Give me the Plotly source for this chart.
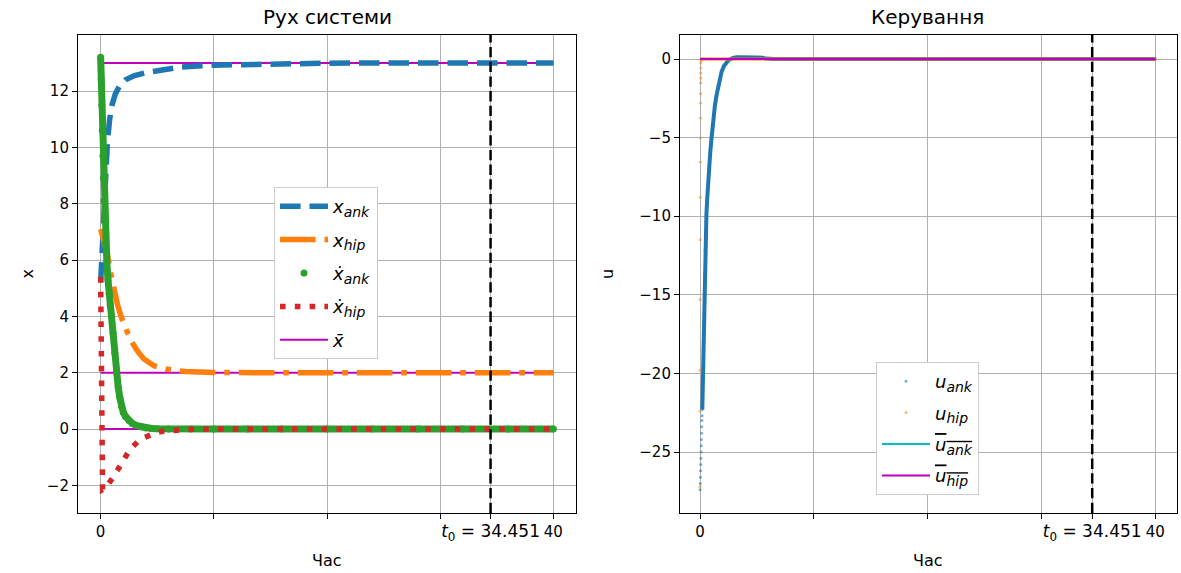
import plotly.graph_objects as go

# ---------------- data ----------------
t0 = 34.4514
x_tickvals = [0, 10, 20, 30, t0, 40]
x_ticktext = ["0", "", "", "", "<span style='font-size:17px'><i>t</i><sub>0</sub> = 34.451</span>", "40"]

# x_ank (blue dashed)
t_xank = [0, 0.15, 0.3, 0.45, 0.6, 0.8, 1.0, 1.3, 1.7, 2.2, 3.0, 4.0, 5.2, 7.0, 10, 14, 20, 30, 40]
v_xank = [5.2, 6.5, 8.0, 9.3, 10.2, 11.0, 11.5, 11.9, 12.2, 12.4, 12.55, 12.65, 12.75, 12.85, 12.92, 12.96, 12.99, 13.0, 13.0]

# x_hip (orange dash-dot)
t_xhip = [0, 0.3, 0.6, 0.9, 1.2, 1.5, 1.8, 2.1, 2.6, 3.2, 3.8, 4.7, 5.9, 7.5, 10, 15, 20, 30, 40]
v_xhip = [7.1, 6.7, 6.2, 5.5, 4.9, 4.4, 4.0, 3.65, 3.2, 2.8, 2.5, 2.25, 2.12, 2.04, 2.01, 2.0, 2.0, 2.0, 2.0]

# x_ank dot (green markers)
t_dxank = [0, 0.05, 0.1, 0.15, 0.2, 0.25, 0.3, 0.35, 0.45, 0.55, 0.65, 0.75, 0.85, 0.97, 1.1, 1.25,
           1.4, 1.55, 1.7, 1.85, 2.0, 2.2, 2.5, 2.8, 3.2, 3.6, 4.0, 4.5, 5.0, 6, 8, 10, 13, 16, 20,
           24, 28, 32, 36, 40]
v_dxank = [13.2, 12.4, 11.5, 10.6, 9.7, 8.9, 8.1, 7.4, 6.6, 5.9, 5.3, 4.8, 4.4, 4.0, 3.4, 2.7,
           2.0, 1.5, 1.1, 0.8, 0.6, 0.45, 0.3, 0.2, 0.12, 0.07, 0.04, 0.02, 0.01, 0, 0, 0, 0, 0, 0,
           0, 0, 0, 0, 0]

# x_hip dot (red dotted)
t_dxhip = [0, 0.04, 0.08, 0.12, 0.17, 0.4, 0.7, 1.05, 1.4, 1.7, 2.0, 2.4, 2.8, 3.25, 3.8, 4.3, 5.0,
           5.6, 6.5, 8, 10, 40]
v_dxhip = [5.4, 3.5, 0.8, -1.2, -2.15, -2.1, -1.95, -1.74, -1.52, -1.31, -1.1, -0.85, -0.64, -0.46,
           -0.31, -0.21, -0.12, -0.07, -0.03, -0.01, 0, 0]

# x bar (magenta reference levels)
xbar_levels = [13, 2, 0]
t_span = [0, 40]

# u_ank (blue small markers): fast sparse start, then dense part
t_uank = [0, 0.015, 0.03, 0.045, 0.06, 0.075, 0.09, 0.105, 0.12, 0.135, 0.15, 0.165, 0.18, 0.2,
          0.24, 0.28, 0.32, 0.36, 0.4, 0.44, 0.5, 0.56, 0.63, 0.7,
          0.8, 0.9, 1.0, 1.1, 1.2, 1.3, 1.45, 1.6, 1.75, 1.9, 2.1, 2.3, 2.5, 2.7, 2.9, 3.2, 3.6,
          4.0, 4.5, 5.0, 5.5, 5.8, 6.5, 8, 12, 16, 20, 24, 28, 32, 36, 40]
v_uank = [-27.4, -27.0, -26.6, -26.2, -25.8, -25.4, -25.0, -24.6, -24.2, -23.8, -23.4, -23.0, -22.7, -22.3,
          -20.5, -18.6, -16.8, -15.2, -13.7, -12.2, -11.0, -9.9, -8.9, -7.9,
          -6.8, -5.9, -5.1, -4.3, -3.6, -3.0, -2.3, -1.7, -1.2, -0.8, -0.45,
          -0.22, -0.08, 0.0, 0.08, 0.12, 0.13, 0.13, 0.12, 0.1, 0.08, 0.03, 0.01, 0, 0, 0, 0, 0, 0,
          0, 0, 0]

# u_hip (orange small markers)
t_uhip = [0, 0.005, 0.01, 0.015, 0.02, 0.025, 0.03, 0.035, 0.04, 0.045, 0.05, 0.055, 0.06, 0.065,
          0.07, 0.075, 0.08, 0.1, 1, 5, 10, 20, 30, 40]
v_uhip = [-27.2, -22.4, -19.8, -15.3, -11.5, -8.8, -6.55, -5.0, -3.75, -2.8, -2.2, -1.5, -1.2,
          -0.89, -0.57, -0.25, -0.1, 0, 0, 0, 0, 0, 0, 0]

ubar_ank = 0
ubar_hip = 0

# ---------------- styling ----------------
BLUE = "#1f77b4"
ORANGE = "#ff7f0e"
GREEN = "#2ca02c"
RED = "#d62728"
MAG = "#bf00bf"
CYAN = "#00bfbf"
FONT = "DejaVu Sans"


def leg(main, sub, bar=False):
    s = "<i>%s</i><sub><span style='font-size:14px'><i>%s</i></span></sub>" % (main, sub)
    if bar:
        s = "<span style='text-decoration:overline'>%s</span>" % s
    return s


fig = go.Figure()

# ---- left panel ----
xb_x, xb_y = [], []
for lv in xbar_levels:
    xb_x += [t_span[0], t_span[1], None]
    xb_y += [lv, lv, None]
fig.add_trace(go.Scatter(x=xb_x, y=xb_y, mode="lines", line=dict(color=MAG, width=2),
                         name="<i>x̄</i>", legend="legend", legendgroup="g5", legendrank=5,
                         xaxis="x", yaxis="y"))
fig.add_trace(go.Scatter(x=t_xank, y=v_xank, mode="lines", line=dict(color=BLUE, width=5.5, dash="20.6px,8.9px"),
                         name=leg("x", "ank"), legend="legend", legendgroup="g1", legendrank=1,
                         xaxis="x", yaxis="y"))
fig.add_trace(go.Scatter(x=t_xhip, y=v_xhip, mode="lines",
                         line=dict(color=ORANGE, width=5.5, dash="35.6px,8.9px,5.6px,8.9px"),
                         name=leg("x", "hip"), legend="legend", legendgroup="g2", legendrank=2,
                         xaxis="x", yaxis="y"))
fig.add_trace(go.Scatter(x=t_dxank, y=v_dxank, mode="lines", line=dict(color=GREEN, width=7),
                         showlegend=False, hoverinfo="skip", xaxis="x", yaxis="y"))
fig.add_trace(go.Scatter(x=t_dxank, y=v_dxank, mode="markers", marker=dict(color=GREEN, size=7),
                         name=leg("ẋ", "ank"), legend="legend", legendgroup="g3", legendrank=3,
                         xaxis="x", yaxis="y"))
fig.add_trace(go.Scatter(x=t_dxhip, y=v_dxhip, mode="lines", line=dict(color=RED, width=5.5, dash="5.6px,9.2px"),
                         name=leg("ẋ", "hip"), legend="legend", legendgroup="g4", legendrank=4,
                         xaxis="x", yaxis="y"))

# ---- right panel ----
k_dense = 13  # dense part of u_ank starts here
fig.add_trace(go.Scatter(x=t_uank[k_dense:], y=v_uank[k_dense:], mode="lines", line=dict(color=BLUE, width=4),
                         showlegend=False, hoverinfo="skip", xaxis="x2", yaxis="y2"))
fig.add_trace(go.Scatter(x=t_uank, y=v_uank, mode="markers", marker=dict(color=BLUE, size=3, opacity=0.6),
                         name=leg("u", "ank"), legend="legend2", legendgroup="h1", legendrank=1,
                         xaxis="x2", yaxis="y2"))
k_flat = 17  # u_hip settled from here
fig.add_trace(go.Scatter(x=t_uhip[k_flat:], y=v_uhip[k_flat:], mode="lines", line=dict(color=ORANGE, width=3),
                         showlegend=False, hoverinfo="skip", xaxis="x2", yaxis="y2"))
fig.add_trace(go.Scatter(x=t_uhip, y=v_uhip, mode="markers", marker=dict(color=ORANGE, size=3, opacity=0.55),
                         name=leg("u", "hip"), legend="legend2", legendgroup="h2", legendrank=2,
                         xaxis="x2", yaxis="y2"))
fig.add_trace(go.Scatter(x=t_span, y=[ubar_ank, ubar_ank], mode="lines", line=dict(color=CYAN, width=2),
                         name=leg("u", "ank", True),
                         legend="legend2", legendgroup="h3", legendrank=3, xaxis="x2", yaxis="y2"))
fig.add_trace(go.Scatter(x=t_span, y=[ubar_hip, ubar_hip], mode="lines", line=dict(color=MAG, width=2),
                         name=leg("u", "hip", True),
                         legend="legend2", legendgroup="h4", legendrank=4, xaxis="x2", yaxis="y2"))

W, H = 1181, 573
axis_common = dict(showline=True, mirror=True, linecolor="black", linewidth=1.1,
                   ticks="outside", ticklen=5, tickwidth=1.1, tickcolor="black",
                   showgrid=True, gridcolor="#b0b0b0", gridwidth=1.1, zeroline=False,
                   tickfont=dict(family=FONT, size=15, color="black"))

yd = [1 - 513 / H, 1 - 35 / H]
fig.update_layout(
    width=W, height=H, margin=dict(l=0, r=0, t=0, b=0),
    paper_bgcolor="white", plot_bgcolor="white",
    font=dict(family=FONT, size=15, color="black"),
    xaxis=dict(domain=[78 / W, 576 / W], range=[-2, 42], tickmode="array", tickvals=x_tickvals,
               ticktext=x_ticktext, tickangle=0, anchor="y", **axis_common),
    yaxis=dict(domain=yd, range=[-2.98, 13.99], tickmode="array", tickvals=[-2, 0, 2, 4, 6, 8, 10, 12],
               anchor="x", **axis_common),
    xaxis2=dict(domain=[680 / W, 1177 / W], range=[-1.76, 41.9], tickmode="array", tickvals=x_tickvals,
                ticktext=x_ticktext, tickangle=0, anchor="y2", **axis_common),
    yaxis2=dict(domain=yd, range=[-28.88, 1.53], tickmode="array", tickvals=[-25, -20, -15, -10, -5, 0],
                anchor="x2", **axis_common),
    legend=dict(x=274 / W, y=1 - 187 / H, xanchor="left", yanchor="top", bgcolor="white",
                bordercolor="#cccccc", borderwidth=1, traceorder="grouped", tracegroupgap=7,
                itemwidth=48, font=dict(family=FONT, size=18)),
    legend2=dict(x=876 / W, y=1 - 362 / H, xanchor="left", yanchor="top", bgcolor="white",
                 bordercolor="#cccccc", borderwidth=1, traceorder="grouped", tracegroupgap=5,
                 itemwidth=48, font=dict(family=FONT, size=18)),
    showlegend=True,
)

for xref in ["x", "x2"]:
    fig.add_shape(type="line", xref=xref, yref=xref.replace("x", "y") + " domain",
                  x0=t0, x1=t0, y0=0, y1=1, line=dict(color="black", width=2.5, dash="10.3px,4.4px"))

annots = [
    dict(text="Рух системи", x=327 / W, y=1 - 17 / H, size=20),
    dict(text="Керування", x=928 / W, y=1 - 17 / H, size=20),
    dict(text="Час", x=327 / W, y=1 - 560 / H, size=16),
    dict(text="Час", x=928 / W, y=1 - 560 / H, size=16),
]
for a in annots:
    fig.add_annotation(text=a["text"], x=a["x"], y=a["y"], xref="paper", yref="paper",
                       showarrow=False, xanchor="center", yanchor="middle",
                       font=dict(family=FONT, size=a["size"], color="black"))
fig.add_annotation(text="x", x=15 / W, y=1 - 274 / H, xref="paper", yref="paper", showarrow=False,
                   textangle=-90, font=dict(family=FONT, size=16, color="black"))
fig.add_annotation(text="u", x=607 / W, y=1 - 274 / H, xref="paper", yref="paper", showarrow=False,
                   textangle=-90, font=dict(family=FONT, size=16, color="black"))

fig.write_html("out.html")
